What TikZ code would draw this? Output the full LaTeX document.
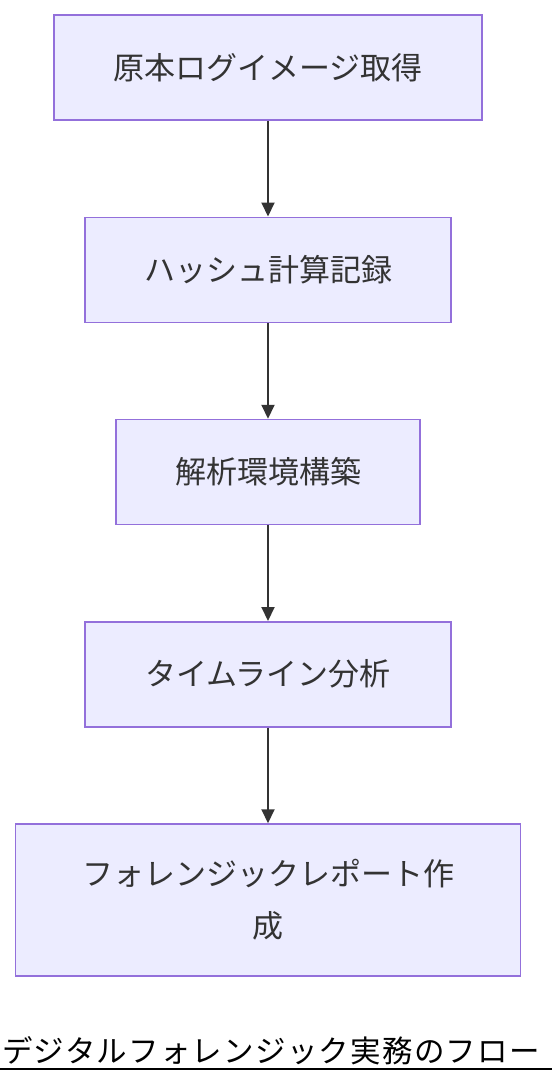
\documentclass[tikz,border=0pt]{standalone}
\usepackage{fontspec}
\setmainfont{Noto Sans CJK JP}
\newfontfamily\titlefont[LetterSpace=4]{Noto Sans CJK JP}
\usepackage{tikz}
\usetikzlibrary{positioning,arrows.meta}
\tikzset{
	>={Triangle[length=14pt,width=13pt]},
	node distance=95.75pt,
	flowbox/.style={draw=boxline, fill=boxfill, line width=1.5pt, text=ink,
		minimum height=105pt, inner sep=0pt, align=center,
		font=\fontsize{31}{52}\selectfont},
}
\definecolor{boxfill}{HTML}{ECECFF}
\definecolor{boxline}{HTML}{9370DB}
\definecolor{ink}{HTML}{333333}

\begin{document}
\begin{tikzpicture}[
		x=1pt, y=1pt,
		flow/.style={->, draw=ink, line width=2pt}
	]
	\useasboundingbox (0,0) rectangle (552,-1084);
	\node[flowbox, minimum width=428pt] (capture) at (268,-67.5) {原本ログイメージ取得};
	\node[flowbox, minimum width=366pt, below=of capture] (hash) {ハッシュ計算記録};
	\node[flowbox, minimum width=304pt, below=of hash] (env) {解析環境構築};
	\node[flowbox, minimum width=366pt, below=of env] (timeline) {タイムライン分析};
	\node[flowbox, minimum width=505pt, minimum height=152pt, below=of timeline] (report) {フォレンジックレポート作\\成};
	\draw[flow] (capture) -- (hash);
	\draw[flow] (hash) -- (env);
	\draw[flow] (env) -- (timeline);
	\draw[flow] (timeline) -- (report);
	% caption
	\node[font=\fontsize{30.5}{36}\selectfont] (caption) at (271,-1051) {\titlefont デジタルフォレンジック実務のフロー};
	\draw[line width=2pt] (0,-1069) -- (552,-1069);
\end{tikzpicture}
\end{document}
